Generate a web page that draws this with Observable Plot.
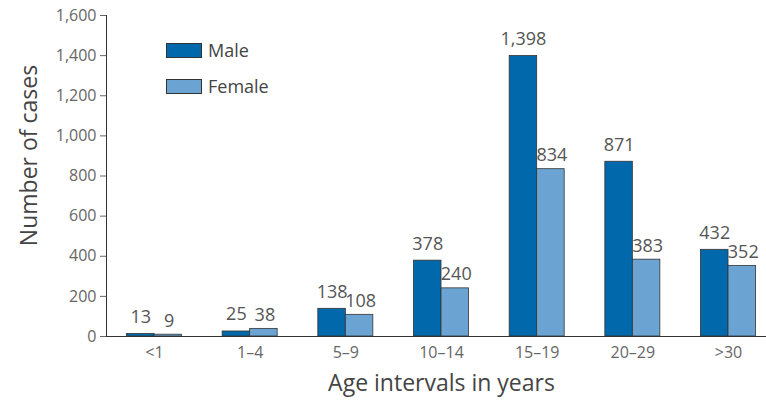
<!DOCTYPE html>
<html>
<head>
<meta charset="utf-8">
<script src="https://cdn.jsdelivr.net/npm/d3@7"></script>
<script src="https://cdn.jsdelivr.net/npm/@observablehq/plot@0.6"></script>
<style>
  body { margin: 0; background: #fff; }
  #wrap { position: relative; width: 766px; height: 406px; overflow: hidden; font-family: "Open Sans", "Noto Sans", sans-serif; }
  .legend { position: absolute; left: 166px; top: 41px; color: #444; font-size: 18px; }
  .legend .row { display: flex; align-items: center; height: 18px; margin-bottom: 18px; }
  .legend .sw { width: 36px; height: 15px; border: 1px solid #333; box-sizing: border-box; margin-right: 6px; }
</style>
</head>
<body>
<div id="wrap"></div>
<script>
const ageGroups = ["<1", "1–4", "5–9", "10–14", "15–19", "20–29", ">30"];
const male = [13, 25, 138, 378, 1398, 871, 432];
const female = [9, 38, 108, 240, 834, 383, 352];
const yTicks = [0, 200, 400, 600, 800, 1000, 1200, 1400, 1600];
const seriesNames = ["Male", "Female"];
const colors = ["#0068ab", "#6ba4d2"];

const maleData = ageGroups.map((a, i) => ({age: a, value: male[i]}));
const femaleData = ageGroups.map((a, i) => ({age: a, value: female[i]}));

const half = 27.5;
const fmt = d3.format(",");

const chart = Plot.plot({
  width: 766,
  height: 406,
  marginLeft: 106,
  marginRight: -10,
  marginTop: 15,
  marginBottom: 70,
  style: {fontFamily: "'Open Sans', 'Noto Sans', sans-serif", fontSize: "16px", color: "#666", background: "white", overflow: "hidden"},
  x: {domain: ageGroups, paddingInner: 0.425, paddingOuter: 0.214, round: false},
  y: {domain: [0, 1600]},
  marks: [
    Plot.barY(maleData, {x: "age", y: "value", fill: colors[0], stroke: "#333", strokeWidth: 0.8, insetRight: half}),
    Plot.barY(femaleData, {x: "age", y: "value", fill: colors[1], stroke: "#333", strokeWidth: 0.8, insetLeft: half}),
    Plot.text(maleData, {x: "age", y: "value", text: d => fmt(d.value), dx: -half / 2, dy: -11, lineAnchor: "bottom", fill: "#555", fontSize: 18}),
    Plot.text(femaleData, {x: "age", y: "value", text: d => fmt(d.value), dx: half / 2 + 1, dy: -8, lineAnchor: "bottom", fill: "#555", fontSize: 18}),
    Plot.axisX({tickSize: 0, tickPadding: 10, fontSize: 16, fill: "#666", label: "Age intervals in years", labelAnchor: "center", labelOffset: 54}),
    Plot.axisY({ticks: yTicks, tickFormat: fmt, tickSize: 6, tickPadding: 4, fontSize: 16, fill: "#666", label: "Number of cases", labelAnchor: "center", labelOffset: 86}),
    Plot.ruleY([0], {stroke: "#333", strokeWidth: 1.2}),
    Plot.frame({anchor: "left", stroke: "#333"})
  ]
});

// style axis titles
chart.querySelectorAll("g[aria-label='x-axis label'] text").forEach(t => {
  t.setAttribute("font-size", "23px");
  t.setAttribute("fill", "#444");
  t.textContent = "Age intervals in years";
});
chart.querySelectorAll("g[aria-label='y-axis label'] text").forEach(t => {
  t.setAttribute("font-size", "23px");
  t.setAttribute("fill", "#444");
  t.textContent = "Number of cases";
  const tr = t.getAttribute("transform");
  if (tr) {
    t.setAttribute("transform", tr.replace(/translate\(\s*([-\d.]+)\s*,\s*([-\d.]+)\s*\)/, (m, x) => `translate(${x},155)`));
  }
});

const wrap = document.getElementById("wrap");
wrap.appendChild(chart);

const legend = document.createElement("div");
legend.className = "legend";
seriesNames.forEach((name, i) => {
  const row = document.createElement("div");
  row.className = "row";
  const sw = document.createElement("div");
  sw.className = "sw";
  sw.style.background = colors[i];
  const label = document.createElement("span");
  label.textContent = name;
  row.appendChild(sw);
  row.appendChild(label);
  legend.appendChild(row);
});
wrap.appendChild(legend);
</script>
</body>
</html>
